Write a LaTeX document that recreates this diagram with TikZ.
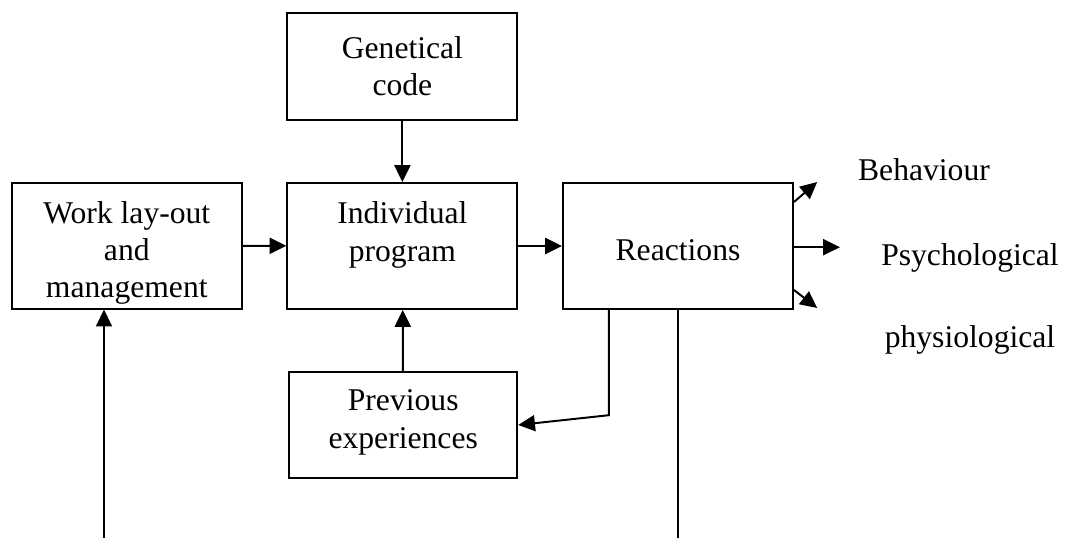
\documentclass[tikz,border=0pt]{standalone}
\usepackage{fontspec}
\setmainfont{Liberation Serif}
\usetikzlibrary{arrows.meta,positioning}

\begin{document}
\begin{tikzpicture}[x=1cm, y=1cm,
  every node/.style={font=\fontsize{22.5}{26.5}\selectfont},
  block/.style={draw, line width=1.4pt, align=center, minimum width=5.75cm, minimum height=3.15cm, inner sep=0pt},
  edge/.style={-{Triangle[length=4.2mm, width=4mm]}, line width=1.4pt},
  wire/.style={line width=1.4pt},
  lab/.style={inner sep=0pt, anchor=center}]
  \useasboundingbox (0,0) rectangle (26.75,-13.45);
  \node[block, minimum height=2.68cm] (gen) at (10.06,-1.66) {Genetical\\code};
  \node[block, text height=2.79cm] (work) at (3.17,-6.14) {Work lay-out\\and\\management};
  \node[block, text depth=0.72cm] (prog) at (10.06,-6.15) {Individual\\program};
  \node[block, text height=0.72cm] (react) at (16.95,-6.15) {Reactions};
  \node[block, minimum width=5.7cm, minimum height=2.65cm, text depth=0.3cm] (prev) at (10.08,-10.625) {Previous\\experiences};
  \node[lab] (beh) at (23.1,-4.25) {Behaviour};
  \node[lab] (psy) at (24.25,-6.45) {Psychological};
  \node[lab] (phy) at (24.25,-8.5) {physiological};
  \coordinate (fb) at (15.22,-10.38);
  \coordinate (inwork) at (2.6,-13.45);
  \draw[edge] (gen) -- (prog);
  \draw[edge] (work) -- (prog);
  \draw[edge] (prog) -- (react);
  \draw[edge] (prev) -- (prog);
  \draw[edge] (react.south -| fb) -- (fb) -- (prev.east);
  \draw[edge] (inwork) -- (inwork |- work.south);
  \draw[wire] (react.south) -- (react.south |- inwork);
  \draw[edge] ([yshift=1.1cm]react.east) -- ++(0.58,0.5);
  \draw[edge] ([yshift=-0.03cm]react.east) -- ++(1.15,0);
  \draw[edge] ([yshift=-1.1cm]react.east) -- ++(0.58,-0.45);
\end{tikzpicture}
\end{document}
